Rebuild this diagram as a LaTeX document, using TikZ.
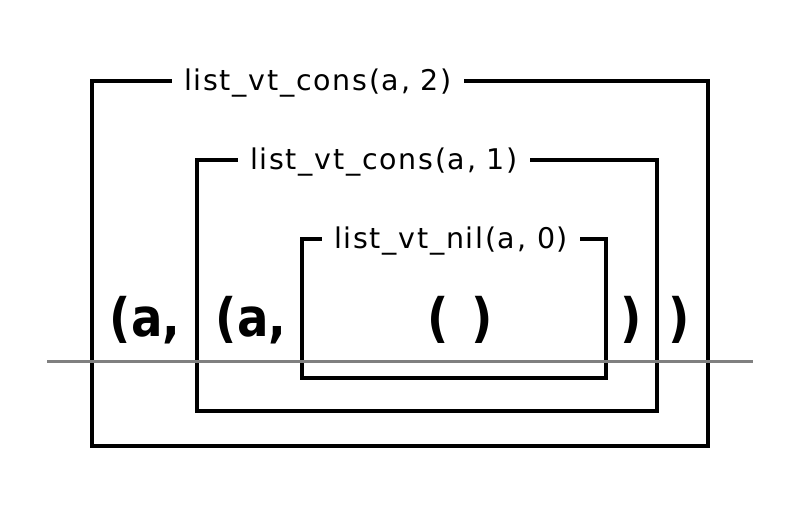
\documentclass[tikz,border=0pt]{standalone}
\usepackage{fontspec}
\setmainfont{DejaVu Sans}
\newfontfamily\lblfont[LetterSpace=6]{DejaVu Sans}
\begin{document}
\begin{tikzpicture}[x=1pt,y=-1pt,
  box/.style={line width=3.2pt, line cap=butt, line join=miter},
  lbl/.style={inner sep=0pt, inner xsep=12pt, font=\lblfont\fontsize{28.5}{28.5}\selectfont},
  big/.style={inner sep=0pt, font=\fontsize{53}{53}\selectfont\bfseries},
  base/.style={line width=3pt, draw=gray}]
\useasboundingbox (0,0) rectangle (800,506);
% labels
\node[lbl] (l2) at (318,83) {list\_vt\_cons(a, 2)};
\node[lbl] (l1) at (384,162) {list\_vt\_cons(a, 1)};
\node[lbl] (l0) at (451,241) {list\_vt\_nil(a, 0)};
% corners
\coordinate (o1) at (92,81);  \coordinate (o2) at (92,446);
\coordinate (o3) at (708,446); \coordinate (o4) at (708,81);
\coordinate (m1) at (197,160); \coordinate (m2) at (197,411);
\coordinate (m3) at (657,411); \coordinate (m4) at (657,160);
\coordinate (i1) at (302,239); \coordinate (i2) at (302,378);
\coordinate (i3) at (606,378); \coordinate (i4) at (606,239);
\draw[box] (l2.west |- o1) -- (o1) -- (o2) -- (o3) -- (o4) -- (l2.east |- o4);
\draw[box] (l1.west |- m1) -- (m1) -- (m2) -- (m3) -- (m4) -- (l1.east |- m4);
\draw[box] (l0.west |- i1) -- (i1) -- (i2) -- (i3) -- (i4) -- (l0.east |- i4);
% big text
\node[big] (t1) at (145,320) {\scalebox{0.88}[1]{(a,}};
\node[big] (t2) at (251,320) {\scalebox{0.88}[1]{(a,}};
\node[big] (t3) at (460,320) {\scalebox{0.88}[1]{(\,\,\,)}};
\node[big] (t4) at (631,320) {\scalebox{0.88}[1]{)}};
\node[big] (t5) at (679,320) {\scalebox{0.88}[1]{)}};
% baseline
\coordinate (g1) at (47,361); \coordinate (g2) at (753,361);
\draw[base] (g1) -- (g2);
\end{tikzpicture}
\end{document}
